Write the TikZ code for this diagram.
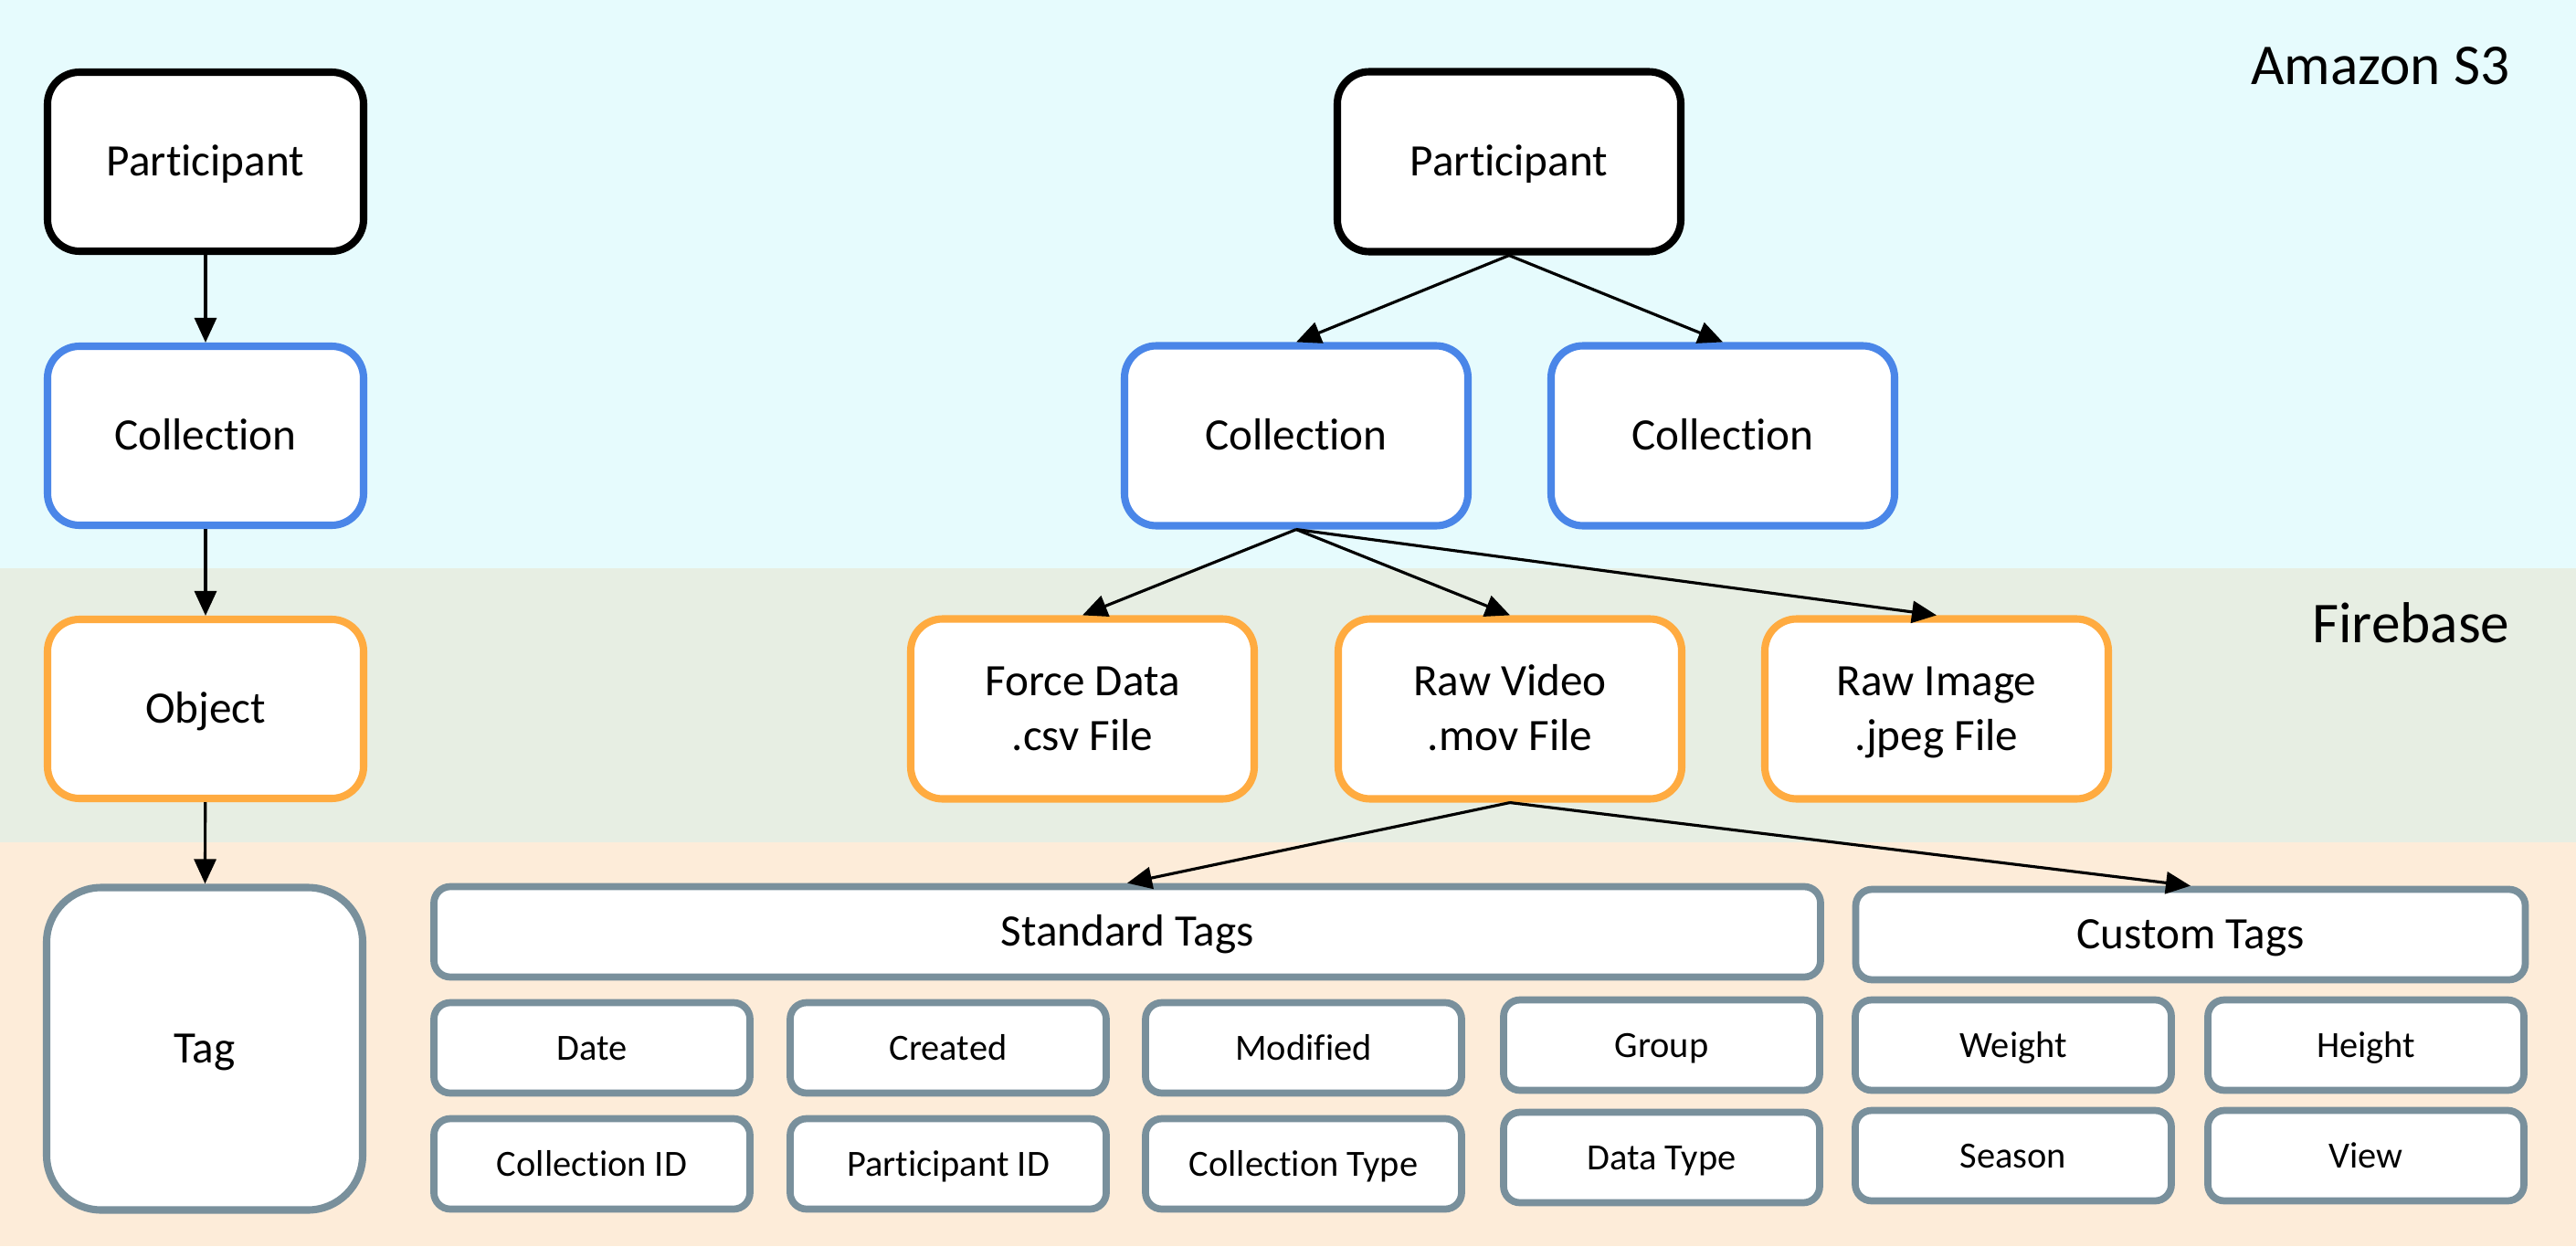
\documentclass[tikz,border=0pt]{standalone}
\usepackage{fontspec}
\usepackage{tikz}
\usetikzlibrary{arrows.meta}
\setmainfont{Carlito}[Ligatures=NoCommon]
\definecolor{sthreeband}{RGB}{230,251,253}
\definecolor{firebaseband}{RGB}{231,238,227}
\definecolor{tagband}{RGB}{253,236,217}
\definecolor{collblue}{RGB}{74,134,232}
\definecolor{objorange}{RGB}{255,171,64}
\definecolor{taggrey}{RGB}{121,144,156}

\begin{document}
\begin{tikzpicture}[>={Triangle[length=0.27cm,width=0.24cm]},
    box/.style={draw, rectangle, fill=white, line width=2.3pt, rounded corners=0.35cm,
        align=center, inner sep=0pt, text height=9pt, text depth=0pt,
        font=\fontsize{14}{17}\selectfont},
    leftbox/.style={box, minimum width=3.46cm, minimum height=1.96cm},
    rightbox/.style={box, minimum width=3.76cm, minimum height=1.97cm},
    filebox/.style={rightbox, draw=objorange, text height=26pt},
    tagbox/.style={draw=taggrey, rectangle, fill=white, line width=2.2pt, rounded corners=0.18cm,
        align=center, inner sep=0pt, minimum width=3.46cm, minimum height=0.99cm,
        text height=7.4pt, text depth=0pt, font=\fontsize{11.5}{14}\selectfont},
    band/.style={anchor=base east, inner sep=0pt, font=\fontsize{18}{22}\selectfont},
    link/.style={->, line width=0.9pt}]
    \useasboundingbox (0,0) rectangle (28.2,13.64);

    % storage bands
    \fill[sthreeband] (0,7.42) rectangle (28.2,13.64);
    \fill[firebaseband] (0,4.42) rectangle (28.2,7.42);
    \fill[tagband] (0,0) rectangle (28.2,4.42);
    \node (s3) at (27.48,12.72) [band] {Amazon S3};
    \node (fb) at (27.48,6.61) [band] {Firebase};

    % hierarchy on the left
    \node (p1) at (2.25,11.87) [leftbox,draw=black] {Participant};
    \node (c1) at (2.25,8.87) [leftbox,draw=collblue] {Collection};
    \node (o1) at (2.25,5.88) [leftbox,draw=objorange] {Object};
    \node (t1) at (2.24,2.16) [leftbox,draw=taggrey,minimum height=3.53cm,rounded corners=0.6cm] {Tag};

    \draw[link] (p1) -- (c1);
    \draw[link] (c1) -- (o1);
    \draw[link] (o1) -- (t1);

    % example
    \node (p2) at (16.52,11.87) [rightbox,draw=black] {Participant};
    \node (c2a) at (14.19,8.87) [rightbox,draw=collblue] {Collection};
    \node (c2b) at (18.86,8.87) [rightbox,draw=collblue] {Collection};

    \node (fd) at (11.85,5.88) [filebox] {Force Data\\.csv File};
    \node (rv) at (16.53,5.88) [filebox] {Raw Video\\.mov File};
    \node (ri) at (21.20,5.88) [filebox] {Raw Image\\.jpeg File};

    \node (std) at (12.34,3.44) [tagbox,minimum width=15.18cm,text height=9pt,font=\fontsize{14}{17}\selectfont] {Standard Tags};
    \node (cst) at (23.98,3.41) [tagbox,minimum width=7.33cm,text height=9pt,font=\fontsize{14}{17}\selectfont] {Custom Tags};

    \node (date) at (6.48,2.17) [tagbox] {Date};
    \node (crt) at (10.38,2.17) [tagbox] {Created};
    \node (mod) at (14.27,2.17) [tagbox] {Modified};
    \node (grp) at (18.19,2.20) [tagbox] {Group};
    \node (wgt) at (22.04,2.20) [tagbox] {Weight};
    \node (hgt) at (25.90,2.20) [tagbox] {Height};

    \node (cid) at (6.48,0.90) [tagbox] {Collection ID};
    \node (pid) at (10.38,0.90) [tagbox] {Participant ID};
    \node (ctype) at (14.27,0.90) [tagbox] {Collection Type};
    \node (dtype) at (18.19,0.97) [tagbox] {Data Type};
    \node (ssn) at (22.04,0.99) [tagbox] {Season};
    \node (view) at (25.90,0.99) [tagbox] {View};

    \draw[link] (p2.south) -- (c2a.north);
    \draw[link] (p2.south) -- (c2b.north);
    \draw[link] (c2a.south) -- (fd.north);
    \draw[link] (c2a.south) -- (rv.north);
    \draw[link] (c2a.south) -- (ri.north);
    \draw[link] (rv.south) -- (std.north);
    \draw[link] (rv.south) -- (cst.north);
\end{tikzpicture}
\end{document}
